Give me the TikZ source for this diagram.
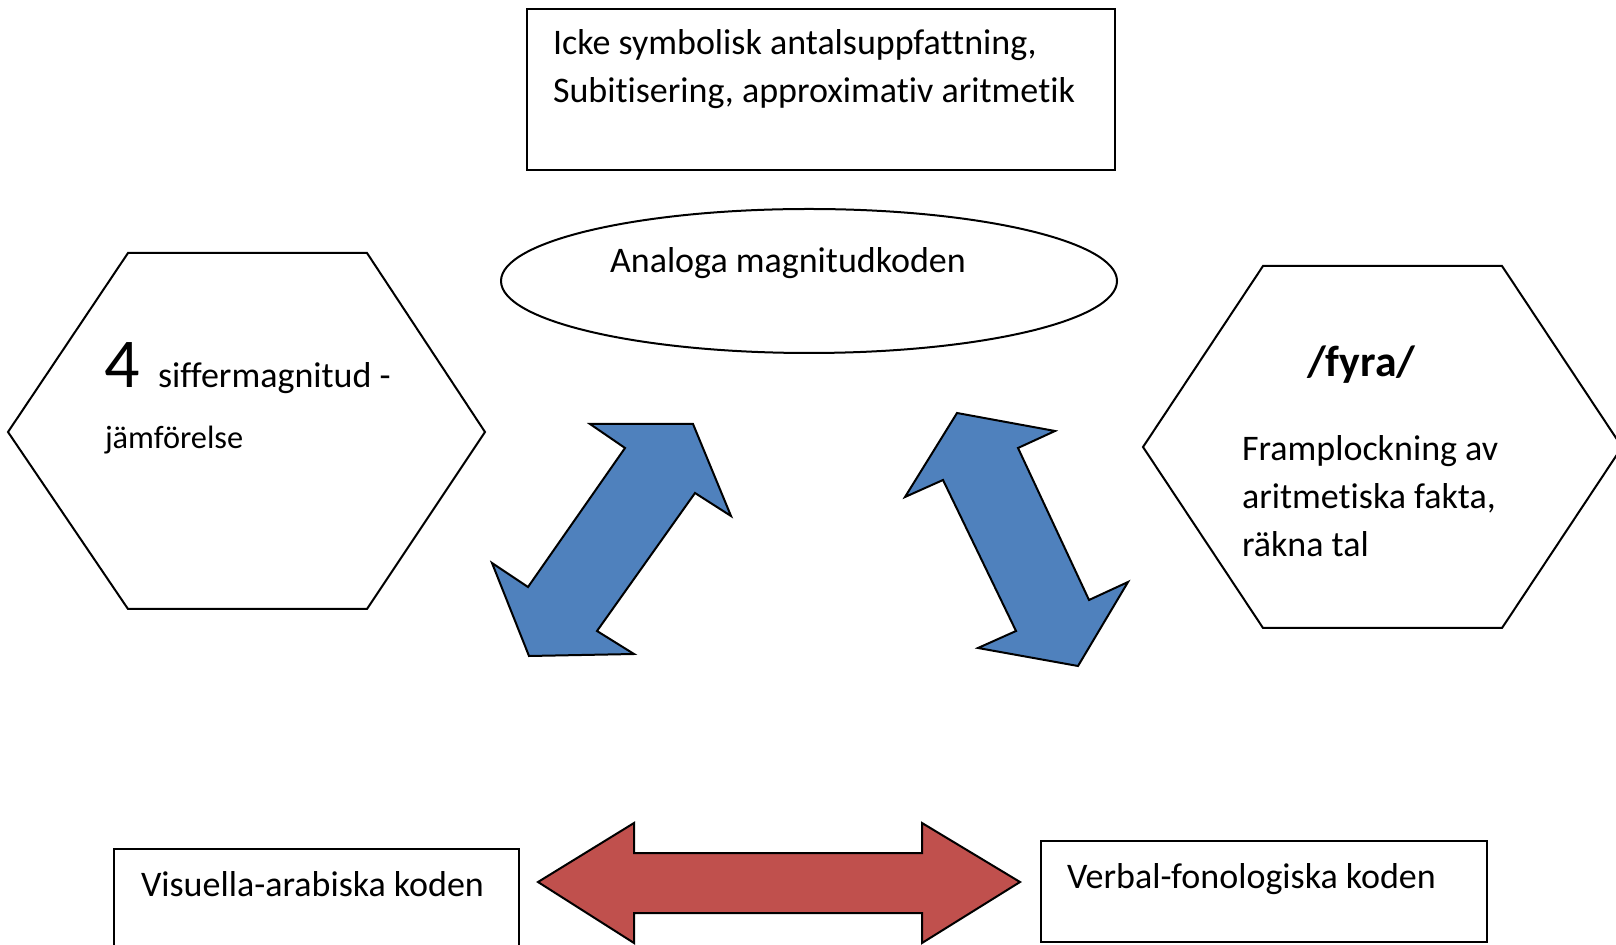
\documentclass[tikz,border=0pt]{standalone}
\usepackage{fontspec}
\setmainfont{Carlito}[Ligatures=CommonOff]
\definecolor{codeblue}{HTML}{4F81BD}
\definecolor{codered}{HTML}{C0504D}

\begin{document}
\begin{tikzpicture}[x=0.3pt, y=-0.3pt, line width=0.6pt,
txt/.style={anchor=base west, inner sep=0pt, font=\fontsize{10.8}{14.4}\selectfont},
blockarrow/.style={draw=black, line join=miter}]
\useasboundingbox (0,0) rectangle (1616,945);
\clip (0,0) rectangle (1616,945);
\draw[black] (527,9) rectangle (1115,170);
\draw[black] (809,281) ellipse [x radius=308, y radius=72];
\draw[black] (8,432) -- (128,253) -- (367,253) -- (485,432) -- (367,609) -- (128,609) -- cycle;
\draw[black] (1143,447) -- (1263,266) -- (1502,266) -- (1622,447) -- (1502,628) -- (1263,628) -- cycle;
\draw[black] (114,849) rectangle (519,960);
\draw[black] (1041,841) rectangle (1487,942);
% blue double arrows
\draw[blockarrow, fill=codeblue] (693,424) -- (731,516) -- (695,493) -- (597,631) -- (634,654)
  -- (529,656) -- (492,563) -- (528,587) -- (625,448) -- (590,424) -- cycle;
\draw[blockarrow, fill=codeblue] (957,413) -- (1055,431) -- (1018,448) -- (1089,600) -- (1128,582)
  -- (1078,666) -- (978,648) -- (1016,631) -- (943,480) -- (905,497) -- cycle;
% red double arrow
\draw[blockarrow, fill=codered] (538,882) -- (634,823) -- (634,853) -- (922,853) -- (922,823)
  -- (1020,882) -- (922,943) -- (922,913) -- (634,913) -- (634,943) -- cycle;
\node[txt] (icke) at (552,55) {Icke symbolisk antalsuppfattning,};
\node[txt] (subit) at (552,103) {Subitisering, approximativ aritmetik};
\node[txt] (analog) at (609,273) {Analoga magnitudkoden};
\node[txt, font=\fontsize{21}{24}\selectfont] (four) at (103,388) {4};
\node[txt] (siffer) at (157,388) {siffermagnitud -};
\node[txt, font=\fontsize{9.7}{12}\selectfont] (jamf) at (104,449) {jämförelse};
\node[txt, font=\fontsize{13.1}{16}\selectfont\bfseries] (fyra) at (1306,377) {/fyra/};
\node[txt] (framp) at (1241,461) {Framplockning av};
\node[txt] (aritm) at (1241,509) {aritmetiska fakta,};
\node[txt] (rakna) at (1241,557) {räkna tal};
\node[txt] (visuell) at (140,896) {Visuella-arabiska koden};
\node[txt] (verbal) at (1066,888) {Verbal-fonologiska koden};
\end{tikzpicture}
\end{document}
